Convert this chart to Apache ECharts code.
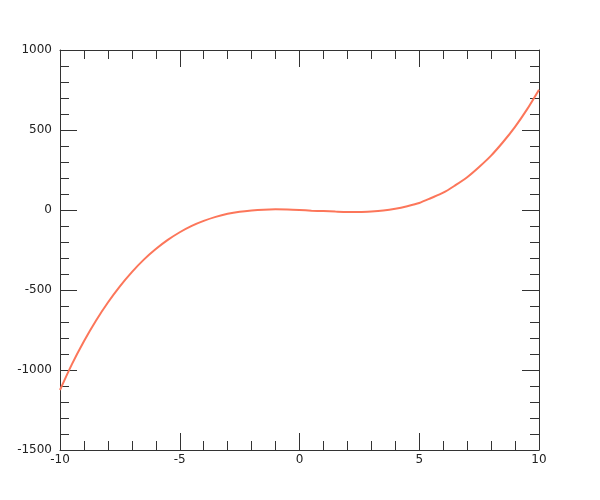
<!DOCTYPE html>
<html>
<head>
<meta charset="utf-8">
<script src="https://cdn.jsdelivr.net/npm/echarts@6/dist/echarts.min.js"></script>
<style>html,body{margin:0;padding:0;background:#fff;}#c{width:600px;height:500px;}</style>
</head>
<body>
<div id="c"></div>
<script>
var xValues = [-10,-9.5,-9,-8.5,-8,-7.5,-7,-6.5,-6,-5.5,-5,-4.5,-4,-3.5,-3,-2.5,-2,-1.5,-1,-0.5,0,0.5,1,1.5,2,2.5,3,3.5,4,4.5,5,5.5,6,6.5,7,7.5,8,8.5,9,9.5,10];
var yValues = [-1125,-963,-820,-692,-578,-477,-388,-310,-244,-187,-139,-99,-68,-43,-24,-11,-3,2,4,3,0,-4,-7,-10,-12,-12,-9,-3,8,24,44,75,108,154,205,269,340,425,520,629,752];
var xTicks = [-10,-5,0,5,10];
var yTicks = [-1500,-1000,-500,0,500,1000];

var chart = echarts.init(document.getElementById('c'), null, {renderer:'canvas'});
var lineColor = '#333';
function axisCommon(showLabel){
  return {
    axisLine:{show:true, onZero:false, lineStyle:{color:lineColor, width:1}},
    axisTick:{show:true, inside:true, length:17, lineStyle:{color:lineColor}},
    minorTick:{show:true, splitNumber:5, length:9, lineStyle:{color:lineColor}},
    splitLine:{show:false},
    minorSplitLine:{show:false},
    axisLabel:{show:showLabel, color:'#222', fontSize:12, fontFamily:'DejaVu Sans',
      formatter:function(v){return String(v);}}
  };
}
var xb = Object.assign({type:'value', position:'bottom', min:xTicks[0], max:xTicks[xTicks.length-1], interval:5}, axisCommon(true));
xb.axisLabel.margin = 4;
var xt = Object.assign({type:'value', position:'top', min:xTicks[0], max:xTicks[xTicks.length-1], interval:5}, axisCommon(false));
var yl = Object.assign({type:'value', position:'left', min:yTicks[0], max:yTicks[yTicks.length-1], interval:500}, axisCommon(true));
yl.axisLabel.margin = 8;
var yr = Object.assign({type:'value', position:'right', min:yTicks[0], max:yTicks[yTicks.length-1], interval:500}, axisCommon(false));

chart.setOption({
  animation:false,
  backgroundColor:'#fff',
  grid:{left:60, top:50, width:479, height:400, containLabel:false},
  xAxis:[xb, xt],
  yAxis:[yl, yr],
  series:[{
    type:'line',
    xAxisIndex:0, yAxisIndex:0,
    data:xValues.map(function(x,i){return [x, yValues[i]];}),
    smooth:0.3,
    showSymbol:false,
    lineStyle:{color:'#fc765a', width:2},
    clip:true
  }]
});
</script>
</body>
</html>
